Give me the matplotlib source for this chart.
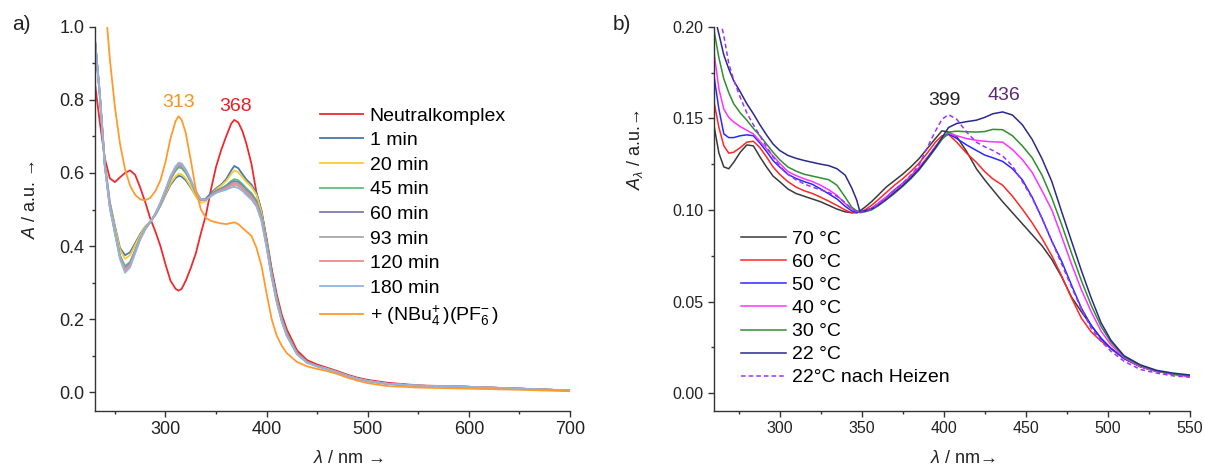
import numpy as np
import matplotlib
matplotlib.use("Agg")
import matplotlib.pyplot as plt
from matplotlib.ticker import MultipleLocator, FormatStrFormatter

plt.rcParams['font.family'] = ['Liberation Sans', 'DejaVu Sans']
plt.rcParams['mathtext.fontset'] = 'custom'
plt.rcParams['mathtext.rm'] = 'Liberation Sans'
plt.rcParams['mathtext.it'] = 'Liberation Sans:italic'
plt.rcParams['mathtext.bf'] = 'Liberation Sans:bold'

# ---------------- panel a: time series after salt addition ----------------
wl_a = [230, 235, 240, 245, 250, 255, 260, 265, 270, 275, 280, 285, 290, 295, 300, 305, 310,
        313, 316,
        320, 325, 330, 335, 340, 345, 350, 355, 360, 365,
        368, 372, 376,
        380, 385, 390, 395, 400, 405, 410, 415, 420,
        430, 440, 450, 460, 470, 480, 490, 500,
        520, 550, 600, 650, 700]

neutral = [0.85, 0.74, 0.64, 0.585, 0.575, 0.588, 0.6, 0.607, 0.595, 0.56, 0.52, 0.475, 0.44, 0.4, 0.35, 0.305, 0.283,
           0.278, 0.283,
           0.305, 0.34, 0.38, 0.435, 0.485, 0.555, 0.617, 0.662, 0.7, 0.735,
           0.745, 0.738, 0.715,
           0.68, 0.625, 0.545, 0.495, 0.42, 0.338, 0.268, 0.212, 0.172,
           0.115, 0.088, 0.076, 0.067, 0.058, 0.048, 0.04, 0.034,
           0.026, 0.019, 0.015, 0.01, 0.005]

t1 = [0.975, 0.82, 0.63, 0.52, 0.455, 0.395, 0.375, 0.383, 0.408, 0.433, 0.453, 0.467, 0.485, 0.51, 0.54, 0.568, 0.586,
      0.592, 0.59,
      0.58, 0.56, 0.537, 0.526, 0.53, 0.545, 0.558, 0.568, 0.583, 0.607,
      0.619, 0.613, 0.597,
      0.582, 0.568, 0.545, 0.495, 0.415, 0.33, 0.258, 0.203, 0.162,
      0.108, 0.083, 0.072, 0.064, 0.055, 0.045, 0.037, 0.031,
      0.024, 0.018, 0.015, 0.01, 0.005]

t20 = [0.97, 0.815, 0.625, 0.515, 0.45, 0.39, 0.365, 0.375, 0.403, 0.43, 0.452, 0.467, 0.486, 0.512, 0.543, 0.572, 0.591,
       0.598, 0.596,
       0.585, 0.563, 0.535, 0.518, 0.523, 0.54, 0.555, 0.565, 0.578, 0.597,
       0.607, 0.602, 0.588,
       0.575, 0.562, 0.54, 0.49, 0.41, 0.325, 0.255, 0.2, 0.16,
       0.107, 0.083, 0.072, 0.064, 0.055, 0.045, 0.037, 0.031,
       0.023, 0.018, 0.015, 0.01, 0.005]

t45 = [0.97, 0.815, 0.62, 0.51, 0.44, 0.375, 0.345, 0.357, 0.39, 0.423, 0.448, 0.466, 0.487, 0.515, 0.548, 0.582, 0.606,
       0.615, 0.613,
       0.6, 0.575, 0.545, 0.525, 0.527, 0.54, 0.552, 0.558, 0.566, 0.578,
       0.583, 0.58, 0.57,
       0.558, 0.545, 0.525, 0.48, 0.405, 0.322, 0.252, 0.198, 0.158,
       0.106, 0.082, 0.072, 0.064, 0.055, 0.045, 0.037, 0.031,
       0.023, 0.018, 0.015, 0.01, 0.005]

t60 = [0.97, 0.815, 0.62, 0.508, 0.438, 0.372, 0.34, 0.353, 0.387, 0.421, 0.447, 0.466, 0.488, 0.516, 0.55, 0.585, 0.61,
       0.62, 0.618,
       0.604, 0.578, 0.547, 0.526, 0.527, 0.539, 0.55, 0.556, 0.563, 0.574,
       0.578, 0.575, 0.565,
       0.553, 0.54, 0.52, 0.477, 0.402, 0.32, 0.25, 0.197, 0.157,
       0.106, 0.082, 0.072, 0.064, 0.055, 0.045, 0.037, 0.031,
       0.023, 0.018, 0.015, 0.01, 0.005]

t93 = [0.97, 0.815, 0.62, 0.507, 0.437, 0.37, 0.337, 0.35, 0.385, 0.42, 0.447, 0.466, 0.488, 0.517, 0.551, 0.587, 0.612,
       0.622, 0.62,
       0.606, 0.579, 0.548, 0.527, 0.527, 0.538, 0.548, 0.554, 0.56, 0.569,
       0.573, 0.57, 0.561,
       0.549, 0.536, 0.516, 0.474, 0.4, 0.318, 0.249, 0.196, 0.156,
       0.105, 0.082, 0.071, 0.064, 0.055, 0.045, 0.037, 0.031,
       0.023, 0.018, 0.015, 0.01, 0.005]

t120 = [0.97, 0.815, 0.62, 0.506, 0.436, 0.368, 0.333, 0.347, 0.383, 0.419, 0.446, 0.466, 0.488, 0.518, 0.553, 0.589, 0.615,
        0.625, 0.623,
        0.608, 0.58, 0.549, 0.527, 0.527, 0.537, 0.547, 0.552, 0.557, 0.565,
        0.568, 0.565, 0.556,
        0.545, 0.532, 0.512, 0.471, 0.398, 0.316, 0.248, 0.195, 0.155,
        0.105, 0.081, 0.071, 0.064, 0.055, 0.045, 0.037, 0.031,
        0.023, 0.018, 0.015, 0.01, 0.005]

t180 = [0.97, 0.815, 0.62, 0.505, 0.434, 0.365, 0.327, 0.342, 0.38, 0.418, 0.446, 0.466, 0.489, 0.519, 0.555, 0.592, 0.618,
        0.628, 0.626,
        0.61, 0.582, 0.55, 0.528, 0.527, 0.536, 0.545, 0.55, 0.554, 0.56,
        0.562, 0.559, 0.551,
        0.54, 0.527, 0.508, 0.468, 0.396, 0.314, 0.246, 0.193, 0.154,
        0.104, 0.081, 0.071, 0.063, 0.054, 0.045, 0.037, 0.031,
        0.023, 0.018, 0.015, 0.01, 0.005]

with_salt = [np.nan, np.nan, 1.08, 0.91, 0.78, 0.68, 0.61, 0.565, 0.54, 0.528, 0.525, 0.532, 0.55, 0.58, 0.63, 0.695, 0.742,
             0.755, 0.745,
             0.71, 0.635, 0.555, 0.5, 0.477, 0.469, 0.465, 0.462, 0.46, 0.463,
             0.465, 0.46, 0.45,
             0.44, 0.428, 0.395, 0.345, 0.27, 0.2, 0.155, 0.127, 0.107,
             0.083, 0.071, 0.064, 0.058, 0.05, 0.04, 0.032, 0.025,
             0.017, 0.013, 0.01, 0.007, 0.003]

series_a = [
    ("Neutralkomplex", neutral, "#ee2a2f"),
    ("1 min", t1, "#4a78b0"),
    ("20 min", t20, "#f7cc3c"),
    ("45 min", t45, "#5cbf80"),
    ("60 min", t60, "#7f7cb0"),
    ("93 min", t93, "#a9a9a9"),
    ("120 min", t120, "#f2898c"),
    ("180 min", t180, "#8fb5e0"),
    (r"+ (NBu$_4^{\!+}$)(PF$_6^{\!-}$)", with_salt, "#ff9a2e"),
]

# ---------------- panel b: temperature series ----------------
wl_b = [260, 263, 266, 269, 272,
        276, 280, 284, 288, 292,
        296, 300, 305, 310, 315,
        320, 325, 330, 335, 340,
        344, 347, 349, 352, 356,
        360, 365, 370, 375, 380,
        385, 390, 395, 399, 403,
        408, 414, 420, 425, 430,
        436, 442, 448, 454, 460,
        466, 472, 478, 484, 490,
        496, 502, 510, 520, 530,
        540, 550]

c70 = [0.146, 0.131, 0.1235, 0.1225, 0.126,
       0.1315, 0.1355, 0.135, 0.129, 0.1235,
       0.1185, 0.1155, 0.1115, 0.109, 0.1075,
       0.106, 0.1045, 0.1025, 0.1005, 0.099,
       0.0985, 0.099, 0.0995, 0.1015, 0.1045,
       0.108, 0.1125, 0.116, 0.1195, 0.1235,
       0.128, 0.1335, 0.139, 0.1432, 0.1425,
       0.14, 0.132, 0.1225, 0.1165, 0.111,
       0.1045, 0.0985, 0.0925, 0.0865, 0.0805,
       0.073, 0.0635, 0.0525, 0.0445, 0.037,
       0.030, 0.0245, 0.019, 0.0145, 0.012,
       0.0105, 0.0095]

c60 = [0.159, 0.145, 0.135, 0.131, 0.1315,
       0.134, 0.137, 0.1375, 0.134, 0.129,
       0.1235, 0.1195, 0.1155, 0.1125, 0.1105,
       0.109, 0.107, 0.1048, 0.1025, 0.1,
       0.0985, 0.0985, 0.099, 0.1, 0.1025,
       0.1055, 0.1095, 0.1135, 0.117, 0.121,
       0.1255, 0.131, 0.137, 0.1405, 0.1412,
       0.137, 0.131, 0.126, 0.121, 0.117,
       0.1135, 0.1075, 0.1005, 0.093, 0.0845,
       0.075, 0.064, 0.052, 0.041, 0.0335,
       0.0285, 0.0245, 0.019, 0.0145, 0.012,
       0.0105, 0.0095]

c50 = [0.173, 0.155, 0.1415, 0.1395, 0.1395,
       0.1405, 0.141, 0.1405, 0.1365, 0.132,
       0.127, 0.1235, 0.1195, 0.1172, 0.1155,
       0.114, 0.1115, 0.1088, 0.106, 0.102,
       0.0995, 0.0985, 0.099, 0.0995, 0.101,
       0.1035, 0.107, 0.111, 0.1145, 0.1185,
       0.123, 0.1285, 0.1345, 0.139, 0.1415,
       0.139, 0.1355, 0.1325, 0.13, 0.1285,
       0.1265, 0.1225, 0.1165, 0.107, 0.0955,
       0.083, 0.072, 0.059, 0.0465, 0.037,
       0.030, 0.0245, 0.019, 0.0145, 0.012,
       0.0105, 0.0095]

c40 = [0.186, 0.166, 0.155, 0.1505, 0.148,
       0.1455, 0.1435, 0.1415, 0.1375, 0.1335,
       0.1295, 0.1255, 0.121, 0.1188, 0.117,
       0.1155, 0.1135, 0.111, 0.108, 0.1035,
       0.1005, 0.0995, 0.099, 0.0995, 0.1008,
       0.1035, 0.107, 0.1105, 0.1145, 0.1185,
       0.123, 0.1285, 0.1345, 0.139, 0.142,
       0.1405, 0.139, 0.138, 0.1375, 0.1372,
       0.137, 0.133, 0.1275, 0.1205, 0.1105,
       0.1, 0.0855, 0.0705, 0.0565, 0.0445,
       0.034, 0.0265, 0.0195, 0.0145, 0.012,
       0.0103, 0.009]

c30 = [0.198, 0.183, 0.1715, 0.164, 0.158,
       0.153, 0.149, 0.1445, 0.1405, 0.136,
       0.1315, 0.1275, 0.1235, 0.1212, 0.1195,
       0.1185, 0.1175, 0.1165, 0.1135, 0.107,
       0.1015, 0.0995, 0.0985, 0.099, 0.1,
       0.1022, 0.1055, 0.109, 0.1128, 0.117,
       0.1218, 0.1275, 0.1335, 0.1385, 0.1425,
       0.143, 0.1427, 0.1425, 0.1428, 0.144,
       0.1438, 0.1405, 0.135, 0.1285, 0.119,
       0.1065, 0.092, 0.0765, 0.0615, 0.048,
       0.0365, 0.028, 0.02, 0.015, 0.0122,
       0.0105, 0.0095]

c22 = [0.207, 0.196, 0.1845, 0.177, 0.1705,
       0.1645, 0.158, 0.1525, 0.1465, 0.141,
       0.136, 0.1325, 0.1298, 0.1282, 0.127,
       0.126, 0.125, 0.1242, 0.1225, 0.119,
       0.112, 0.1055, 0.099, 0.0995, 0.1005,
       0.1025, 0.1058, 0.1095, 0.1133, 0.1175,
       0.1222, 0.128, 0.134, 0.1395, 0.145,
       0.1472, 0.1482, 0.149, 0.1505, 0.1525,
       0.1535, 0.1518, 0.1465, 0.1385, 0.128,
       0.1155, 0.099, 0.083, 0.067, 0.052,
       0.0385, 0.029, 0.0205, 0.0155, 0.0125,
       0.011, 0.01]

c22_after = [0.219, 0.207, 0.195, 0.18, 0.171,
             0.1615, 0.153, 0.1465, 0.1405, 0.1345,
             0.129, 0.124, 0.1195, 0.1165, 0.1142,
             0.1125, 0.111, 0.1095, 0.1075, 0.104,
             0.1005, 0.099, 0.0988, 0.099, 0.1005,
             0.103, 0.1065, 0.1105, 0.1145, 0.119,
             0.1245, 0.134, 0.143, 0.1495, 0.152,
             0.1495, 0.1425, 0.137, 0.1345, 0.1325,
             0.1295, 0.124, 0.1155, 0.1065, 0.0955,
             0.083, 0.0705, 0.058, 0.046, 0.0355,
             0.0285, 0.023, 0.0175, 0.013, 0.011,
             0.0095, 0.0088]

series_b = [
    ("70 °C", c70, "#3a3a3a", "-"),
    ("60 °C", c60, "#ff2626", "-"),
    ("50 °C", c50, "#2a2aff", "-"),
    ("40 °C", c40, "#ff33ff", "-"),
    ("30 °C", c30, "#2f8f2f", "-"),
    ("22 °C", c22, "#2a2a8a", "-"),
    ("22°C nach Heizen", c22_after, "#9a33ff", (0, (3.0, 2.0))),
]

# ---------------- figure ----------------
W, H = 1205, 471
fig = plt.figure(figsize=(W / 100, H / 100), dpi=100)


def px_axes(l, t, r, b):
    return fig.add_axes([l / W, 1 - b / H, (r - l) / W, (b - t) / H])


def style_axes(ax, size):
    for s in ("top", "right"):
        ax.spines[s].set_visible(False)
    for s in ("left", "bottom"):
        ax.spines[s].set_color("#333333")
        ax.spines[s].set_linewidth(1.0)
    ax.tick_params(which="major", direction="out", length=4.5, width=1.0,
                   color="#333333", labelsize=size, labelcolor="#222222", pad=3)
    ax.tick_params(which="minor", direction="out", length=2.5, width=1.0, color="#333333")


ARROW = "\u2192"

ax_a = px_axes(94.7, 26.7, 570, 410.6)
ax_b = px_axes(714, 26.7, 1189.6, 410.7)

for label, vals, col in series_a:
    ax_a.plot(wl_a, vals, color=col, lw=1.3, label=label)
ax_a.set_xlim(230, 700)
ax_a.set_ylim(-0.05, 1.0)
ax_a.xaxis.set_major_locator(MultipleLocator(100))
ax_a.xaxis.set_minor_locator(MultipleLocator(50))
ax_a.yaxis.set_major_locator(MultipleLocator(0.2))
ax_a.yaxis.set_minor_locator(MultipleLocator(0.1))
ax_a.yaxis.set_major_formatter(FormatStrFormatter("%.1f"))
style_axes(ax_a, 13)
ax_a.set_xlabel(r"$\lambda$ / nm " + ARROW, fontsize=13, color="#222222")
ax_a.xaxis.set_label_coords(0.533, -0.103)
ax_a.set_ylabel(r"$A$ / a.u. " + ARROW, fontsize=13, color="#222222")
ax_a.yaxis.set_label_coords(-0.117, 0.55)
ax_a.text(312.8, 0.793, "313", color="#f7931e", fontsize=14, ha="center", va="center")
ax_a.text(369.5, 0.783, "368", color="#ee1c24", fontsize=14, ha="center", va="center")
ax_a.legend(loc="upper left", bbox_to_anchor=(320 / W, 1 - 107 / H),
            bbox_transform=fig.transFigure, frameon=False, fontsize=14,
            handlelength=2.2, handletextpad=0.35, labelspacing=0.36,
            borderpad=0, borderaxespad=0)

for label, vals, col, ls in series_b:
    ax_b.plot(wl_b, vals, color=col, lw=1.1, ls=ls, label=label)
ax_b.set_xlim(260, 550)
ax_b.set_ylim(-0.0095, 0.20)
ax_b.xaxis.set_major_locator(MultipleLocator(50))
ax_b.xaxis.set_minor_locator(MultipleLocator(25))
ax_b.yaxis.set_major_locator(MultipleLocator(0.05))
ax_b.yaxis.set_minor_locator(MultipleLocator(0.025))
ax_b.yaxis.set_major_formatter(FormatStrFormatter("%.2f"))
style_axes(ax_b, 11.5)
ax_b.set_xlabel(r"$\lambda$ / nm" + ARROW, fontsize=13, color="#222222")
ax_b.xaxis.set_label_coords(0.524, -0.103)
ax_b.set_ylabel(r"$A_\lambda$ / a.u." + ARROW, fontsize=13, color="#222222")
ax_b.yaxis.set_label_coords(-0.145, 0.68)
ax_b.text(400.3, 0.160, "399", color="#222222", fontsize=14, ha="center", va="center")
ax_b.text(436.7, 0.1627, "436", color="#5b2a6e", fontsize=14, ha="center", va="center")
ax_b.legend(loc="upper left", bbox_to_anchor=(741 / W, 1 - 230.5 / H),
            bbox_transform=fig.transFigure, frameon=False, fontsize=14,
            handlelength=2.3, handletextpad=0.3, labelspacing=0.28,
            borderpad=0, borderaxespad=0)

fig.text(21.5 / W, 1 - 25 / H, "a)", fontsize=15, ha="center", va="center", color="#222222")
fig.text(622 / W, 1 - 25 / H, "b)", fontsize=15, ha="center", va="center", color="#222222")

fig.savefig("out.png", dpi=100)
